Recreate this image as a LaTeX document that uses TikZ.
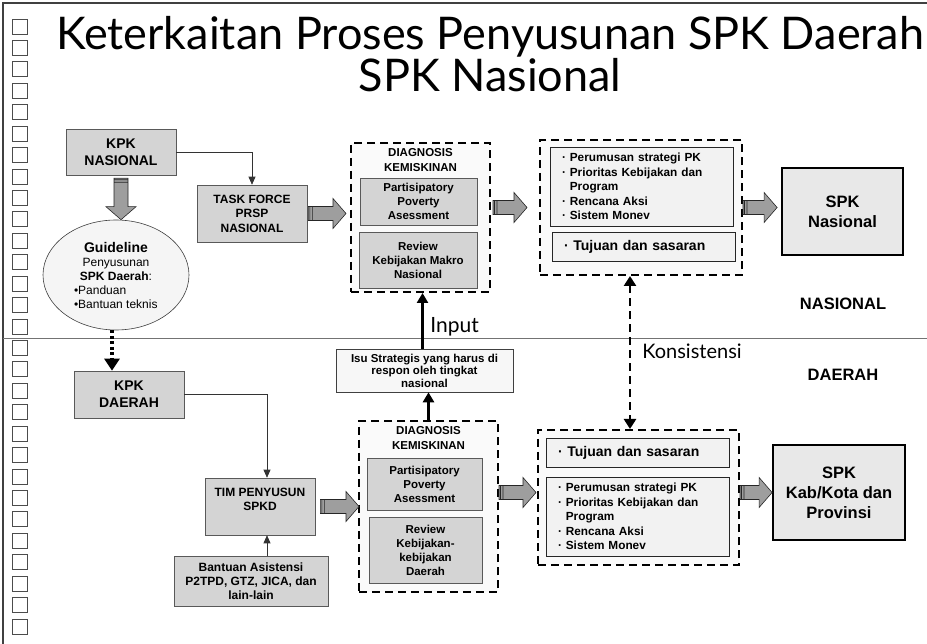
\documentclass[tikz,border=0pt]{standalone}
\usepackage{fontspec}
\setmainfont{Liberation Sans}
\newfontfamily\titlefont{Lato}
\usetikzlibrary{positioning,calc,shapes.geometric,arrows.meta}

\begin{document}
\begin{tikzpicture}[x=1pt, y=-1pt, semithick,
	procbox/.style={draw=black!65, fill=black!17, align=center, inner sep=0pt,
		font=\bfseries\fontsize{12}{14.5}\selectfont},
	diagbox/.style={draw, line width=2pt, dash pattern=on 8pt off 5pt, fill=black!2, inner sep=0pt},
	listbox/.style={draw=black!85, fill=black!5, align=left, inner xsep=12pt, inner ysep=0pt,
		text width=159pt, font=\bfseries\fontsize{11.8}{14.5}\selectfont},
	spkbox/.style={draw, line width=1.8pt, fill=black!9, align=center, inner sep=0pt,
		font=\bfseries\fontsize{16.5}{20}\selectfont},
	zonelabel/.style={font=\bfseries\fontsize{16.5}{20}\selectfont},
	thinarrow/.style={draw=black!80, line width=0.7pt, -{Triangle[length=8pt,width=7pt]}},
	inputarrow/.style={line width=3pt, -{Triangle[length=10pt,width=11pt]}},
	konsarrow/.style={line width=2.5pt, dash pattern=on 8pt off 5pt,
		{Triangle[length=10pt,width=12pt]}-{Triangle[length=10pt,width=12pt]}},
	dotarrow/.style={line width=4pt, dash pattern=on 3pt off 2.5pt, -{Triangle[length=12pt,width=15pt]}},
	fatarrow/.style={fill=black!38, draw=black!85, line width=0.6pt,
		to path={($(\tikztostart)!7pt!90:(\tikztotarget)$)
			-- ($(\tikztotarget)!13pt!(\tikztostart)!7pt!90:(\tikztotarget)$)
			-- ($(\tikztotarget)!13pt!(\tikztostart)!15pt!90:(\tikztotarget)$)
			-- (\tikztotarget)
			-- ($(\tikztotarget)!13pt!(\tikztostart)!15pt!-90:(\tikztotarget)$)
			-- ($(\tikztotarget)!13pt!(\tikztostart)!7pt!-90:(\tikztotarget)$)
			-- ($(\tikztostart)!7pt!-90:(\tikztotarget)$) -- cycle
			($(\tikztostart)!1.5pt!(\tikztotarget)!7pt!90:(\tikztotarget)$)
			-- ($(\tikztostart)!1.5pt!(\tikztotarget)!7pt!-90:(\tikztotarget)$)
			($(\tikztostart)!4pt!(\tikztotarget)!7pt!90:(\tikztotarget)$)
			-- ($(\tikztostart)!4pt!(\tikztotarget)!7pt!-90:(\tikztotarget)$)}}]
	\useasboundingbox (0,0) rectangle (927,644);

	% background: side band, squares, frame and divider
	\shade[top color=white, middle color=black!22, bottom color=white] (4,50) rectangle (115,622);
	\foreach \i in {0,...,28}
		\draw[black!70, fill=white, line width=0.8pt] (12,19+21.43*\i) rectangle ++(15,15);
	\draw[black!75, line width=1.2pt] (3,644) -- (3,3) -- (927,3);
	\draw[black!55, line width=1pt] (3,339) -- (927,339);

	\node (title1) [anchor=base, font=\titlefont\fontsize{45}{50}\selectfont] at (490,50) {Keterkaitan Proses Penyusunan SPK Daerah};
	\node (title2) [anchor=base, font=\titlefont\fontsize{45}{50}\selectfont] at (490,92) {SPK Nasional};

	% nasional
	\node (kpkn) [procbox, minimum width=110, minimum height=46, font=\bfseries\fontsize{14}{17}\selectfont] at (121,152) {KPK\\NASIONAL};
	\node (guide) [ellipse, draw=black!75, fill=black!4, minimum width=146, minimum height=110, inner sep=0pt,
		align=center, font=\fontsize{12}{14}\selectfont] at (116,275)
		{{\bfseries\fontsize{14}{14}\selectfont Guideline}\\ Penyusunan\\ \textbf{SPK Daerah}:\\
		\makebox[84pt][l]{•Panduan}\\ \makebox[84pt][l]{•Bantuan teknis}};
	\node (task) [procbox, minimum width=110, minimum height=57] at (252,213.5) {TASK FORCE\\PRSP\\NASIONAL};
	\node (diagA) [diagbox, minimum width=139, minimum height=149] at (420.5,217.5) {};
	\node (diagAtitle) [below=3pt of diagA.north, align=center, font=\bfseries\fontsize{11.5}{14.5}\selectfont] {DIAGNOSIS\\KEMISKINAN};
	\node (ppaA) [procbox, minimum width=117, minimum height=47, font=\bfseries\fontsize{11.5}{14}\selectfont] at (418.5,201.5) {Partisipatory\\Poverty\\Asessment};
	\node (revA) [procbox, minimum width=118, minimum height=56, font=\bfseries\fontsize{11.5}{14}\selectfont] at (418,260) {Review\\Kebijakan Makro\\Nasional};
	\node (outA) [diagbox, minimum width=202, minimum height=135] at (641,207.5) {};
	\node (stratA) [listbox, minimum height=79] at (641.5,186.5)
		{· Perumusan strategi PK\\ · Prioritas Kebijakan dan\\ \phantom{· }Program\\ · Rencana Aksi\\ · Sistem Monev};
	\node (goalA) [listbox, minimum height=29, font=\bfseries\fontsize{14}{16}\selectfont] at (643.5,246.5) {· Tujuan dan sasaran};
	\node (spkn) [spkbox, minimum width=121, minimum height=87] at (842.5,211.5) {SPK\\Nasional};
	\node (nas) [zonelabel] at (843,304) {NASIONAL};

	% daerah
	\node (isu) [draw=black!75, fill=black!3, minimum width=177, minimum height=43, inner sep=0pt, align=center,
		font=\bfseries\fontsize{11.5}{12.5}\selectfont] at (424.5,370.5) {Isu Strategis yang harus di\\respon oleh tingkat\\nasional};
	\node (kpkd) [procbox, minimum width=110, minimum height=47, font=\bfseries\fontsize{14}{17}\selectfont] at (129,394.5) {KPK\\DAERAH};
	\node (tim) [procbox, minimum width=110, minimum height=57] at (260,506.5) {TIM PENYUSUN\\SPKD\\\mbox{}};
	\node (bantuan) [procbox, minimum width=154, minimum height=50, font=\bfseries\fontsize{12}{14}\selectfont] at (251,581) {Bantuan Asistensi\\P2TPD, GTZ, JICA, dan\\lain-lain};
	\node (diagB) [diagbox, minimum width=139, minimum height=171] at (428.5,506.5) {};
	\node (diagBtitle) [below=3pt of diagB.north, align=center, font=\bfseries\fontsize{11.5}{14.5}\selectfont] {DIAGNOSIS\\KEMISKINAN};
	\node (ppaB) [procbox, minimum width=115, minimum height=52, font=\bfseries\fontsize{11.5}{14}\selectfont] at (424.5,484) {Partisipatory\\Poverty\\Asessment};
	\node (revB) [procbox, minimum width=113, minimum height=66, font=\bfseries\fontsize{11.5}{14}\selectfont] at (425.5,550) {Review\\Kebijakan-\\kebijakan\\Daerah};
	\node (outB) [diagbox, minimum width=201, minimum height=135] at (638.5,497.5) {};
	\node (goalB) [listbox, minimum height=29, font=\bfseries\fontsize{14}{16}\selectfont] at (637.5,452.5) {· Tujuan dan sasaran};
	\node (stratB) [listbox, minimum height=79] at (637.5,516.5)
		{· Perumusan strategi PK\\ · Prioritas Kebijakan dan\\ \phantom{· }Program\\ · Rencana Aksi\\ · Sistem Monev};
	\node (spkd) [spkbox, minimum width=132, minimum height=95] at (839,492.5) {SPK\\Kab/Kota dan\\Provinsi};
	\node (dae) [zonelabel] at (843,375) {DAERAH};

	\node (input) [anchor=base west, inner sep=0pt, font=\titlefont\fontsize{21}{24}\selectfont] at (430,333) {Input};
	\node (kons) [anchor=base west, inner sep=0pt, font=\titlefont\fontsize{20}{24}\selectfont] at (642,359) {Konsistensi};

	% connectors
	\draw[fatarrow] ([yshift=-3]kpkn.south) to (kpkn.south |- guide.north);
	\draw[thinarrow] (kpkn.east) -| (task.north);
	\draw[fatarrow] ([xshift=1]task.east) to ([xshift=-4]task.east -| diagA.west);
	\draw[fatarrow] ([xshift=2]diagA.east |- outA.west) to ([xshift=-12]outA.west);
	\draw[fatarrow] (outA.east) to ([xshift=-4]outA.east -| spkn.west);
	\draw[inputarrow] ([xshift=2]diagA.south |- isu.north) -- ([xshift=2]diagA.south);
	\draw[inputarrow] (diagB.north) -- (diagB.north |- isu.south);
	\draw[konsarrow] ([xshift=-11]outA.south) -- ([xshift=-11]outA.south |- outB.north);
	\draw[dotarrow] ([xshift=-4]guide.south) -- ([xshift=-4]guide.south |- kpkd.north);
	\draw[thinarrow] (kpkd.east) -| ([xshift=7]tim.north);
	\draw[thinarrow] ([xshift=16]bantuan.north) -- ([xshift=7]tim.south);
	\draw[fatarrow] ([xshift=5]tim.east) to ([xshift=1]tim.east -| diagB.west);
	\draw[fatarrow] (diagB.east |- spkd.west) to ([xshift=-1]outB.west |- spkd.west);
	\draw[fatarrow] (outB.east |- spkd.west) to (spkd.west);
\end{tikzpicture}
\end{document}
